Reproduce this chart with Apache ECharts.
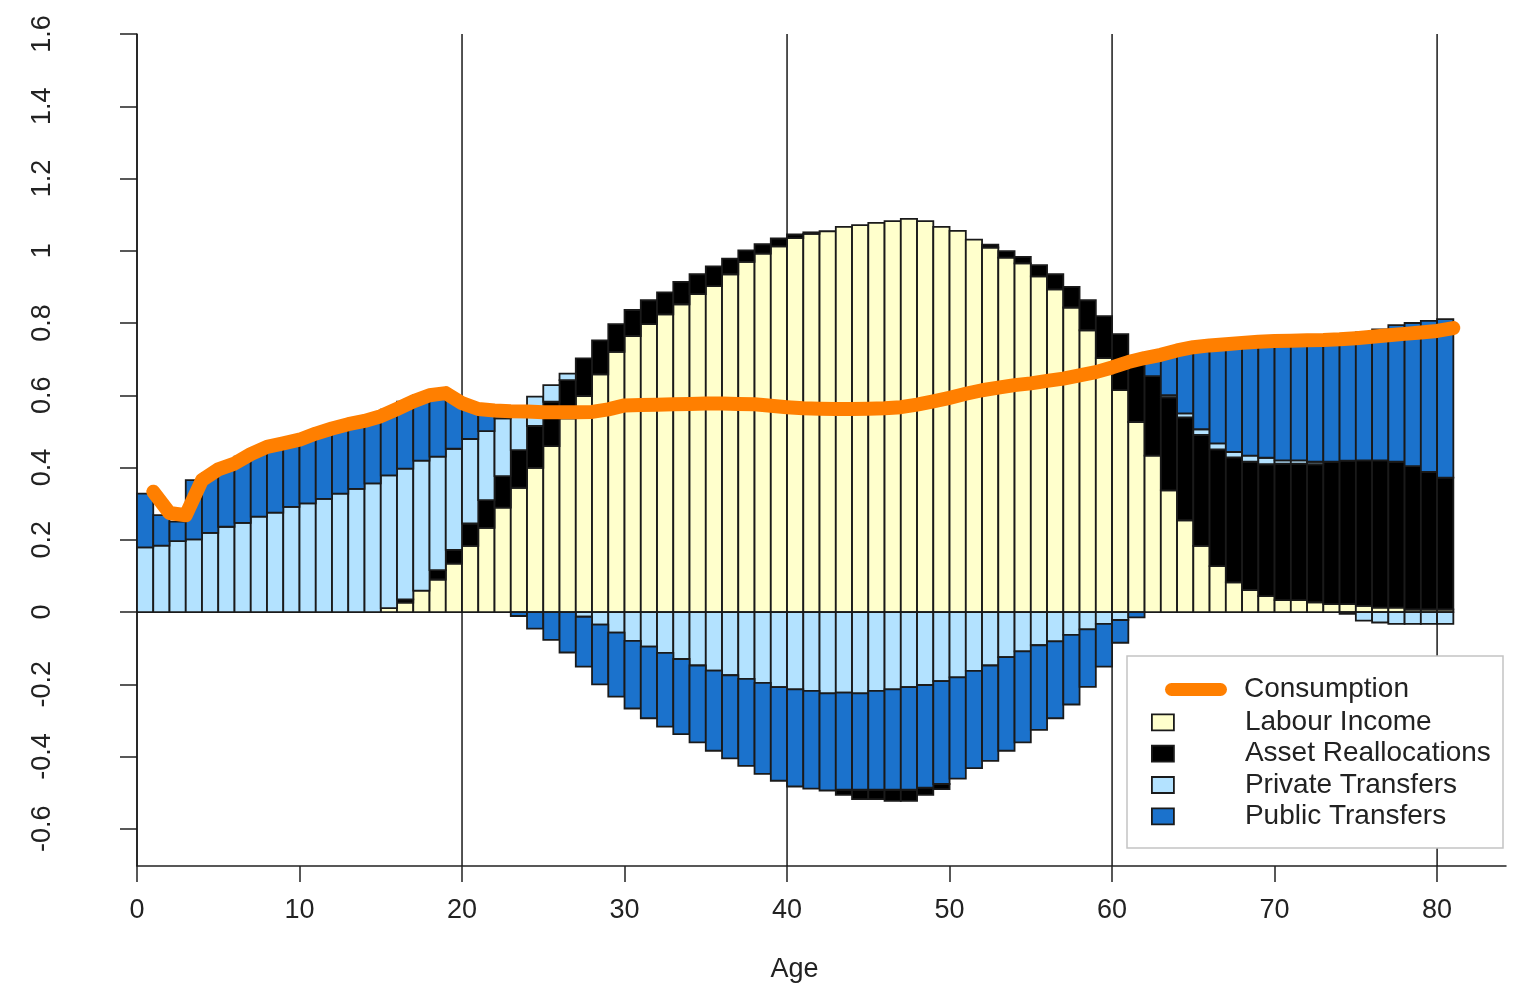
<!DOCTYPE html>
<html><head><meta charset="utf-8">
<script src="https://cdn.jsdelivr.net/npm/echarts@6/dist/echarts.min.js"></script>
<style>html,body{margin:0;padding:0;background:#fff}#c{width:1521px;height:990px}</style>
</head><body><div id="c"></div>
<script>
// Bars span [age, age+1]
const barAges = [0,1,2,3,4,5,6,7,8,9,10,11,12,13,14,15,16,17,18,19,20,21,22,23,24,25,26,27,28,29,30,31,32,33,34,35,36,37,38,39,40,41,42,43,44,45,46,47,48,49,50,51,52,53,54,55,56,57,58,59,60,61,62,63,64,65,66,67,68,69,70,71,72,73,74,75,76,77,78,79,80];
// Consumption points plotted at the right edge of each bar
const consAges = [1,2,3,4,5,6,7,8,9,10,11,12,13,14,15,16,17,18,19,20,21,22,23,24,25,26,27,28,29,30,31,32,33,34,35,36,37,38,39,40,41,42,43,44,45,46,47,48,49,50,51,52,53,54,55,56,57,58,59,60,61,62,63,64,65,66,67,68,69,70,71,72,73,74,75,76,77,78,79,80,81];

const labour = [0,0,0,0,0,0,0,0,0,0,0,0,0,0,0,
  0.011,0.026,0.059,0.090,0.134,
  0.183,0.233,0.289,0.344,0.399,0.459,0.536,0.598,0.658,0.720,
  0.764,0.797,0.824,0.852,0.880,0.902,0.935,0.969,0.992,1.012,
  1.035,1.047,1.054,1.066,1.071,1.077,1.082,1.088,1.082,1.066,
  1.055,1.031,1.009,0.981,0.965,0.929,0.893,0.843,0.780,0.703,
  0.614,0.526,0.433,0.337,0.254,0.183,0.127,0.082,0.061,0.044,
  0.033,0.033,0.027,0.022,0.022,0.017,0.012,0.012,0.007,0.007,0.007];

const asset = [0,0,0,0,0,0,0,0,0,0,0,0,0,0,0,0,
  0.009,0,0.026,0.038,
  0.062,0.077,0.087,0.104,0.116,0.123,0.106,0.104,0.094,0.077,
  0.072,0.066,0.061,0.062,0.055,0.055,0.043,0.032,0.026,0.022,
  0.010,0.004,0,-0.014,-0.026,-0.026,-0.031,-0.031,-0.020,-0.014,
  0,0,0.008,0.018,0.018,0.031,0.042,0.057,0.083,0.116,
  0.155,0.165,0.220,0.257,0.285,0.307,0.323,0.346,0.355,0.365,
  0.378,0.378,0.382,0.394,0.397,0.403,0.408,0.404,0.397,0.381,0.365];

const privateTransfers = [0.179,0.184,0.196,0.201,0.219,0.236,0.247,0.264,0.275,0.291,
  0.301,0.313,0.328,0.341,0.356,0.367,0.362,0.360,0.314,0.280,
  0.234,0.191,0.160,0.117,0.081,0.046,0.018,-0.013,-0.035,-0.057,
  -0.080,-0.096,-0.113,-0.130,-0.148,-0.162,-0.175,-0.185,-0.196,-0.208,
  -0.214,-0.218,-0.225,-0.223,-0.225,-0.218,-0.214,-0.208,-0.202,-0.191,
  -0.181,-0.163,-0.148,-0.125,-0.109,-0.092,-0.081,-0.063,-0.048,-0.033,
  -0.022,0,0,0.006,0.011,0.016,0.017,0.015,0.017,0.018,
  0.009,0.009,0.007,0,-0.005,-0.024,-0.029,-0.033,-0.033,-0.033,-0.033];

const publicTransfers = [0.149,0.084,0.054,0.164,0.165,0.166,0.183,0.189,0.195,0.189,
  0.189,0.190,0.189,0.189,0.188,0.182,0.185,0.181,0.182,0.138,
  0.087,0.059,0.020,-0.011,-0.046,-0.077,-0.112,-0.138,-0.165,-0.177,
  -0.187,-0.198,-0.204,-0.208,-0.213,-0.222,-0.230,-0.241,-0.252,-0.259,
  -0.269,-0.271,-0.269,-0.269,-0.267,-0.274,-0.278,-0.284,-0.284,-0.285,
  -0.280,-0.269,-0.264,-0.259,-0.252,-0.234,-0.213,-0.193,-0.159,-0.118,
  -0.063,-0.015,0.047,0.116,0.166,0.222,0.268,0.295,0.309,0.318,
  0.328,0.330,0.336,0.339,0.343,0.354,0.362,0.378,0.396,0.418,0.439];

const consumption = [0.333,0.274,0.268,0.365,0.395,0.411,0.437,0.457,0.467,0.477,
  0.494,0.508,0.520,0.529,0.542,0.562,0.583,0.600,0.606,0.578,
  0.562,0.558,0.556,0.555,0.553,0.553,0.553,0.554,0.561,0.572,
  0.573,0.574,0.575,0.576,0.577,0.577,0.576,0.575,0.571,0.567,
  0.564,0.563,0.562,0.562,0.563,0.564,0.567,0.574,0.583,0.593,
  0.604,0.614,0.621,0.628,0.633,0.640,0.646,0.655,0.664,0.677,
  0.692,0.703,0.712,0.724,0.733,0.738,0.741,0.745,0.748,0.750,
  0.751,0.752,0.753,0.755,0.758,0.762,0.766,0.770,0.774,0.778,0.786];

const xTickValues = [0,10,20,30,40,50,60,70,80];
const yTickValues = [-0.6,-0.4,-0.2,0,0.2,0.4,0.6,0.8,1,1.2,1.4,1.6];
const refLineAges = [0,20,40,60,80];

const FONT = "'Liberation Sans', Arial, sans-serif";
const TXT = '#222222';
const EDGE = '#1a1a1a';

const components = [
  {name: 'Labour Income', values: labour, color: '#FFFFCC'},
  {name: 'Asset Reallocations', values: asset, color: '#000000'},
  {name: 'Private Transfers', values: privateTransfers, color: '#B3E2FF'},
  {name: 'Public Transfers', values: publicTransfers, color: '#1B72CC'}
];
// positives stack upward in the listed order; negatives stack downward: private, public, asset, labour
const posOrder = [0, 1, 2, 3];
const negOrder = [2, 3, 1, 0];

const ranges = components.map(() => []);
barAges.forEach((age, i) => {
  let base = 0;
  posOrder.forEach(ci => {
    const v = components[ci].values[i];
    if (v > 0) { ranges[ci][i] = [age, base, base + v]; base += v; }
  });
  base = 0;
  negOrder.forEach(ci => {
    const v = components[ci].values[i];
    if (v < 0) { ranges[ci][i] = [age, base + v, base]; base += v; }
  });
  components.forEach((c, ci) => { if (!ranges[ci][i]) ranges[ci][i] = [age, 0, 0]; });
});

const barSeries = components.map((c, ci) => ({
  type: 'custom',
  name: c.name,
  z: 2,
  data: ranges[ci],
  encode: {x: 0, y: [1, 2]},
  itemStyle: {color: c.color, borderColor: EDGE, borderWidth: 1.5},
  renderItem: function (params, api) {
    const a = api.value(0), lo = api.value(1), hi = api.value(2);
    if (hi - lo === 0) return null;
    const p0 = api.coord([a, hi]);
    const p1 = api.coord([a + 1, lo]);
    return {
      type: 'rect',
      shape: {x: p0[0], y: p0[1], width: p1[0] - p0[0], height: p1[1] - p0[1]},
      style: {fill: c.color, stroke: EDGE, lineWidth: 1.8}
    };
  }
}));

const refSeries = {
  type: 'custom', name: 'ref', z: 1, silent: true,
  data: refLineAges.map(a => [a]),
  encode: {x: 0},
  renderItem: function (params, api) {
    const p = api.coord([api.value(0), 0]);
    const cs = params.coordSys;
    return {
      type: 'line',
      shape: {x1: p[0], y1: cs.y, x2: p[0], y2: cs.y + cs.height},
      style: {stroke: '#1a1a1a', lineWidth: 1.5}
    };
  }
};

const chart = echarts.init(document.getElementById('c'), null, {renderer: 'canvas'});
chart.setOption({
  animation: false,
  backgroundColor: '#fff',
  textStyle: {fontFamily: FONT},
  grid: {left: 137, right: 15, top: 34, bottom: 124, containLabel: false},
  xAxis: {
    type: 'value', min: 0, max: 84.24,
    axisLine: {show: true, onZero: false, lineStyle: {color: '#222', width: 1.5}},
    axisTick: {show: true, length: 16, customValues: xTickValues, lineStyle: {color: '#222', width: 1.5}},
    axisLabel: {customValues: xTickValues, fontSize: 27, color: TXT, margin: 31, fontFamily: FONT},
    splitLine: {show: false},
    name: 'Age', nameLocation: 'middle', nameGap: 90,
    nameTextStyle: {fontSize: 27, color: TXT, fontFamily: FONT, padding: [0, 54, 0, 0]}
  },
  yAxis: {
    type: 'value', min: -0.703, max: 1.6, offset: 51,
    axisLine: {show: true, lineStyle: {color: '#222', width: 1.5}},
    axisTick: {show: true, length: 17, customValues: yTickValues, lineStyle: {color: '#222', width: 1.5}},
    axisLabel: {customValues: yTickValues, rotate: 90, fontSize: 27, color: TXT, margin: 30, fontFamily: FONT},
    splitLine: {show: false}
  },
  legend: [
    {
      data: [{
        name: 'Consumption',
        icon: 'path://M6.5,0H55.5A6.5,6.5,0,0,1,55.5,13H6.5A6.5,6.5,0,0,1,6.5,0Z',
        itemStyle: {color: '#FF7F00', borderWidth: 0}
      }],
      orient: 'vertical', left: 1165, top: 675.5, padding: 0,
      itemWidth: 62, itemHeight: 14, selectedMode: false, z: 6,
      textStyle: {fontSize: 28, color: TXT, fontFamily: FONT, lineHeight: 28, padding: [0, 0, 0, 12]}
    },
    {
      data: ['Labour Income', 'Asset Reallocations', 'Private Transfers', 'Public Transfers'],
      orient: 'vertical', left: 1151, top: 708.4, padding: 0, itemGap: 3.3,
      itemWidth: 22, itemHeight: 16, icon: 'rect', selectedMode: false, z: 6,
      itemStyle: {borderColor: EDGE, borderWidth: 1.8},
      textStyle: {fontSize: 28, color: TXT, fontFamily: FONT, lineHeight: 28, padding: [0, 0, 0, 66]}
    }
  ],
  graphic: [{
    type: 'rect', z: 5, silent: true,
    shape: {x: 1127, y: 656, width: 376, height: 192},
    style: {fill: '#fff', stroke: '#c4c4c4', lineWidth: 1.5}
  }],
  series: [refSeries].concat(barSeries, [
    {
      type: 'line', name: 'Consumption', z: 3,
      data: consAges.map((a, i) => [a, consumption[i]]),
      symbol: 'none', smooth: false,
      itemStyle: {color: '#FF7F00'},
      lineStyle: {color: '#FF7F00', width: 14, cap: 'round', join: 'round'}
    }
  ])
});
</script></body></html>
